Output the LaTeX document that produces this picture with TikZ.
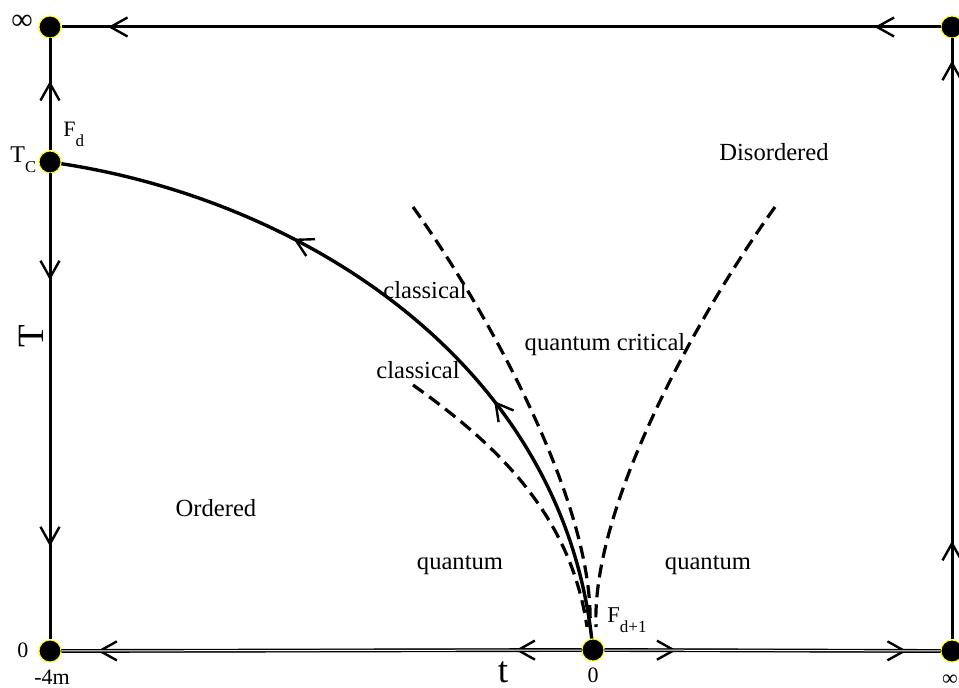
\documentclass[tikz,border=0pt]{standalone}
\usepackage{fontspec}
\setmainfont{Liberation Serif}
\usetikzlibrary{arrows.meta,decorations.markings}
\definecolor{rim}{HTML}{FFFF00}
\newcommand{\sublow}[2][8.3]{\raisebox{-5pt}{\fontsize{#1}{#1}\selectfont #2}}

\begin{document}
\begin{tikzpicture}[x=0.5pt, y=-0.5pt,
    barb/.tip={Straight Barb[length=8.5pt, width=9.5pt, line width=1.2pt]},
    fp/.style={circle, fill=black, draw=rim, line width=0.5pt, minimum size=11pt, inner sep=0pt},
    edge/.style={line width=1.5pt},
    flow/.style={postaction={decorate, decoration={markings, mark=at position #1 with {\arrow{barb}}}}},
    bound/.style={line width=1.6pt, dash pattern=on 6.5pt off 3.5pt},
    axisline/.style={double, line width=0.7pt, double distance=0.5pt},
    lbl/.style={font=\fontsize{12.3}{14}\selectfont, inner sep=0pt},
    numlbl/.style={font=\fontsize{11}{13}\selectfont, inner sep=0pt},
    axlbl/.style={font=\fontsize{18.5}{20}\selectfont, inner sep=0pt}]
    \useasboundingbox (0,0) rectangle (959,688);
    % fixed points
    \node[fp] (inftop) at (50,27) {};
    \node[fp] (infcorner) at (952,27) {};
    \node[fp] (Tc) at (50,162) {};
    \node[fp] (origin) at (50,651) {};
    \node[fp] (Fq) at (593,650) {};
    \node[fp] (infright) at (952,651) {};
    % flow lines along the border
    \draw[edge, flow=0.075, flow=0.947] (infcorner) -- (inftop);
    \draw[edge, flow=0.62] (Tc) -- (inftop);
    \draw[edge, flow=0.229, flow=0.80] (Tc) -- (origin);
    \draw[edge, flow=0.164, flow=0.963] (infright) -- (infcorner);
    \draw[edge, flow=0.127, flow=0.931] (Fq) -- (origin);
    \draw[edge, flow=0.214, flow=0.90] (Fq) -- (infright);
    \draw[axisline] (Fq) -- (origin);
    \draw[axisline] (Fq) -- (infright);
    % separatrix
    \draw[edge, line width=1.7pt, flow=0.34, flow=0.68] (Fq) .. controls (560,360) and (300,200) .. (Tc);
    % crossover lines
    \draw[bound] (413,207) .. controls (480,300) and (595,500) .. (590,627);
    \draw[bound] (775,207) .. controls (708,300) and (591,500) .. (596,627);
    \draw[bound] (413,385) .. controls (490,440) and (570,510) .. (587,627);
    % regions
    \node[lbl] (disord) at (774,152) {Disordered};
    \node[lbl] (ord) at (216,508) {Ordered};
    \node[lbl] (clA) at (425,290) {classical};
    \node[lbl] (clB) at (418,370) {classical};
    \node[lbl] (qcrit) at (605,345) {quantum critical};
    \node[lbl] (qL) at (460,565) {quantum};
    \node[lbl] (qR) at (708,565) {quantum};
    % axis labels
    \node[numlbl, font=\fontsize{15}{15}\selectfont] (infT) at (22,22) {∞};
    \node[numlbl, anchor=base] (zeroT) at (23,658) {0};
    \node[numlbl, anchor=base] (mfour) at (52,685) {-4m};
    \node[numlbl, anchor=base] (zerot) at (593,683) {0};
    \node[numlbl] (inft) at (950,680) {∞};
    \node[axlbl, rotate=90] (Tlbl) at (31,336) {T};
    \node[axlbl, anchor=base] (tlbl) at (503,683) {t};
    \node[anchor=base west, inner sep=0pt, font=\fontsize{12}{14}\selectfont] (TcLbl) at (10,163) {T\sublow{C}};
    \node[anchor=base west, inner sep=0pt, font=\fontsize{11}{12}\selectfont] (FdLbl) at (63,137) {F\sublow[8.5]{d}};
    \node[anchor=base west, inner sep=0pt, font=\fontsize{11.3}{13}\selectfont] (FqLbl) at (607,623) {F\sublow[8.5]{d+1}};
\end{tikzpicture}
\end{document}
